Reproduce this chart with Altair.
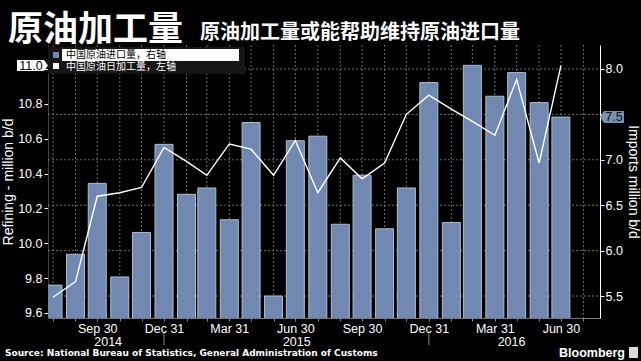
import altair as alt
import pandas as pd

# ---------------- data ----------------
months = ["2014-07-31", "2014-08-31", "2014-09-30", "2014-10-31", "2014-11-30", "2014-12-31",
          "2015-01-31", "2015-02-28", "2015-03-31", "2015-04-30", "2015-05-31", "2015-06-30",
          "2015-07-31", "2015-08-31", "2015-09-30", "2015-10-31", "2015-11-30", "2015-12-31",
          "2016-01-31", "2016-02-29", "2016-03-31", "2016-04-30", "2016-05-31", "2016-06-30"]
imports = [5.62, 5.96, 6.74, 5.71, 6.20, 7.17, 6.62, 6.69, 6.34, 7.41, 5.50, 7.21,
           7.26, 6.29, 6.83, 6.24, 6.69, 7.85, 6.31, 8.04, 7.70, 7.96, 7.63, 7.47]
refining = [9.69, 9.78, 10.27, 10.29, 10.32, 10.55, 10.47, 10.39, 10.57, 10.54, 10.39, 10.59,
            10.29, 10.49, 10.37, 10.46, 10.74, 10.85, 10.77, 10.70, 10.62, 10.94, 10.46, 11.02]
grid_months = months + ["2016-07-31"]
x_domain = ["2014-07-31", "2016-08-16"]
year_labels = ["2014", "2015", "2016"]
year_label_dates = ["2014-10-15", "2015-07-02", "2016-04-23"]
year_breaks = ["2014-12-31", "2015-12-31"]
import_ticks = [5.5, 6.0, 6.5, 7.0, 7.5, 8.0]
refining_ticks = [9.6, 9.8, 10.0, 10.2, 10.4, 10.6, 10.8, 11.0]
import_domain = [5.258, 8.264]
refining_domain = [9.571, 11.138]
legend_labels = ["中国原油进口量，右轴", "中国原油日加工量，左轴"]
title_text = "原油加工量"
subtitle_text = "原油加工量或能帮助维持原油进口量"
source_text = "Source: National Bureau of Statistics, General Administration of Customs"
brand_text = "Bloomberg"

AX_FONT = "Liberation Sans"
CJK = "Noto Sans CJK SC"
BAR_FILL = "#7189b0"
BAR_STROKE = "#aebcd3"
GRID = "#6e6e6e"


def dt(s):
    y, m, d = (int(p) for p in s.split("-"))
    return alt.DateTime(year=y, month=m, date=d, utc=True)


xscale = alt.Scale(type="utc", domain=[dt(x_domain[0]), dt(x_domain[1])])
rscale = alt.Scale(domain=import_domain, zero=False, nice=False)
lscale = alt.Scale(domain=refining_domain, zero=False, nice=False)

df = pd.DataFrame({"date": months, "imports": imports, "refining": refining})
last = df.tail(1)
one = pd.DataFrame({"k": [0]})

# the last values are shown in tags, so the matching axis labels stay blank under them
last_import = round(imports[-1], 1)
last_refining = round(refining[-1], 1)

xaxis = alt.Axis(
    values=[dt(m) for m in grid_months],
    labelExpr="utcmonth(datum.value) % 3 == 2 ? utcFormat(datum.value, '%b %d') : ''",
    grid=False, tickColor="#888", tickSize=3, domainColor="#777",
    labelColor="white", labelFont=AX_FONT, labelFontSize=12.5, labelPadding=1,
    labelBaseline="top", labelOverlap=False, labelFlush=False, title=None,
)
X = alt.X("date:T", scale=xscale, axis=xaxis)

right_axis = alt.Axis(
    orient="right", values=import_ticks, format=".1f", grid=False,
    labelExpr=f"abs(datum.value - {last_import}) < 0.01 ? '' : datum.label",
    domainColor="white", tickColor="white", tickSize=4,
    labelColor="white", labelFont=AX_FONT, labelFontSize=12.5, labelPadding=1,
    title="Imports million b/d", titleColor="white", titleFont=AX_FONT,
    titleFontSize=14, titleFontWeight="normal", titlePadding=3,
)
left_axis = alt.Axis(
    orient="left", values=refining_ticks, format=".1f", grid=False,
    labelExpr=f"abs(datum.value - {last_refining}) < 0.01 ? '' : datum.label",
    domainColor="#444", tickColor="white", tickSize=4,
    labelColor="white", labelFont=AX_FONT, labelFontSize=12.5, labelPadding=2,
    title="Refining - million b/d", titleColor="white", titleFont=AX_FONT,
    titleFontSize=14, titleFontWeight="normal", titlePadding=2,
)

# dotted grid (monthly verticals, right-axis horizontals)
vgrid = alt.Chart(pd.DataFrame({"date": grid_months})).mark_rule(
    stroke=GRID, strokeWidth=1, strokeDash=[2, 2], strokeOpacity=1).encode(
    x=X, y=alt.value(0), y2=alt.value(273))
hgrid = alt.Chart(pd.DataFrame({"imports": import_ticks})).mark_rule(
    stroke=GRID, strokeWidth=1, strokeDash=[2, 2], strokeOpacity=1).encode(
    y=alt.Y("imports:Q", scale=rscale, axis=None), x=alt.value(0), x2=alt.value(552))

bars = alt.Chart(df).mark_bar(size=18, clip=True, color=BAR_FILL, stroke=BAR_STROKE,
                              strokeWidth=1).encode(
    x=X, y=alt.Y("imports:Q", scale=rscale, axis=right_axis))
RPATH = "M-1,0L-0.667,-0.5L1,-0.5L1,0.5L-0.667,0.5Z"
right_tag = alt.Chart(last).mark_point(shape=RPATH, size=576, filled=True, fill="#7990b5",
                                        opacity=1, strokeOpacity=0).encode(
    x=alt.value(564), y=alt.Y("imports:Q", scale=rscale, axis=None))
right_tag_text = alt.Chart(last).transform_calculate(
    lbl="format(datum.imports, '.1f')").mark_text(
    color="#111", fontSize=12.5, font=AX_FONT, align="center", baseline="middle").encode(
    x=alt.value(566), y=alt.Y("imports:Q", scale=rscale, axis=None), text="lbl:N")

line = alt.Chart(df).mark_line(color="white", strokeWidth=1.4).encode(
    x=X, y=alt.Y("refining:Q", scale=lscale, axis=left_axis))
LPATH = "M-1,-0.355L0.74,-0.355L1,0L0.74,0.355L-1,0.355Z"
left_tag = alt.Chart(last).mark_point(shape=LPATH, size=961, filled=True, fill="white",
                                       opacity=1, strokeOpacity=0).encode(
    x=alt.value(-15.5), y=alt.Y("refining:Q", scale=lscale, axis=None))
left_tag_text = alt.Chart(last).transform_calculate(
    lbl="format(datum.refining, '.1f')").mark_text(
    color="black", fontSize=12.5, font=AX_FONT, align="center", baseline="middle").encode(
    x=alt.value(-17), y=alt.Y("refining:Q", scale=lscale, axis=None), text="lbl:N")

# year row under the x axis
ydf = pd.DataFrame({"date": year_label_dates, "year": year_labels})
years = alt.Chart(ydf).mark_text(color="white", font=AX_FONT, fontSize=12.5,
                                 baseline="middle", align="center").encode(
    x=X, y=alt.value(296.5), text="year:N")
bdf = pd.DataFrame({"date": year_breaks})
breaks = alt.Chart(bdf).mark_rule(color="#888", strokeWidth=1).encode(
    x=X, y=alt.value(288), y2=alt.value(300))


def rect(x1, x2, y1, y2, color):
    return alt.Chart(one).mark_rect(color=color).encode(
        x=alt.value(x1), x2=alt.value(x2), y=alt.value(y1), y2=alt.value(y2))


def label(txt, x, y, size, color="white", font=AX_FONT, weight="normal", align="left",
          baseline="middle"):
    return alt.Chart(one).mark_text(text=txt, color=color, font=font, fontSize=size,
                                    fontWeight=weight, align=align, baseline=baseline).encode(
        x=alt.value(x), y=alt.value(y))


decor = [
    # legend
    rect(0, 197, 2, 29, "#161616"),
    rect(14, 191, 4, 16, "white"),
    rect(5, 11, 7, 13, BAR_FILL),
    rect(5, 11, 18, 24, "white"),
    label(legend_labels[0], 18, 10, 10, color="black", font=CJK),
    label(legend_labels[1], 18, 22, 10, color="white", font=CJK),
    # titles
    label(title_text, -40, -4, 35, font=CJK, weight="bold", baseline="alphabetic"),
    label(subtitle_text, 152, -6, 20, font=CJK, weight="bold", baseline="alphabetic"),
    # footer
    label(source_text, -43, 308, 9, font="DejaVu Sans", weight="bold"),
    label(brand_text, 577, 308, 12.5, font=AX_FONT, weight="bold", align="right"),
    rect(581, 590, 302, 313, "#dddddd"),
]

chart = alt.layer(hgrid, vgrid, bars, line, right_tag, right_tag_text, left_tag, left_tag_text,
                  years, breaks, *decor).resolve_scale(
    y="independent"
).properties(
    width=552, height=273,
    padding={"left": 48, "top": 45, "right": 41, "bottom": 43},
    autosize=alt.AutoSizeParams(type="none"),
).configure(background="black").configure_view(stroke=None)

chart.save("out.html", embed_options={"renderer": "svg", "actions": False})
